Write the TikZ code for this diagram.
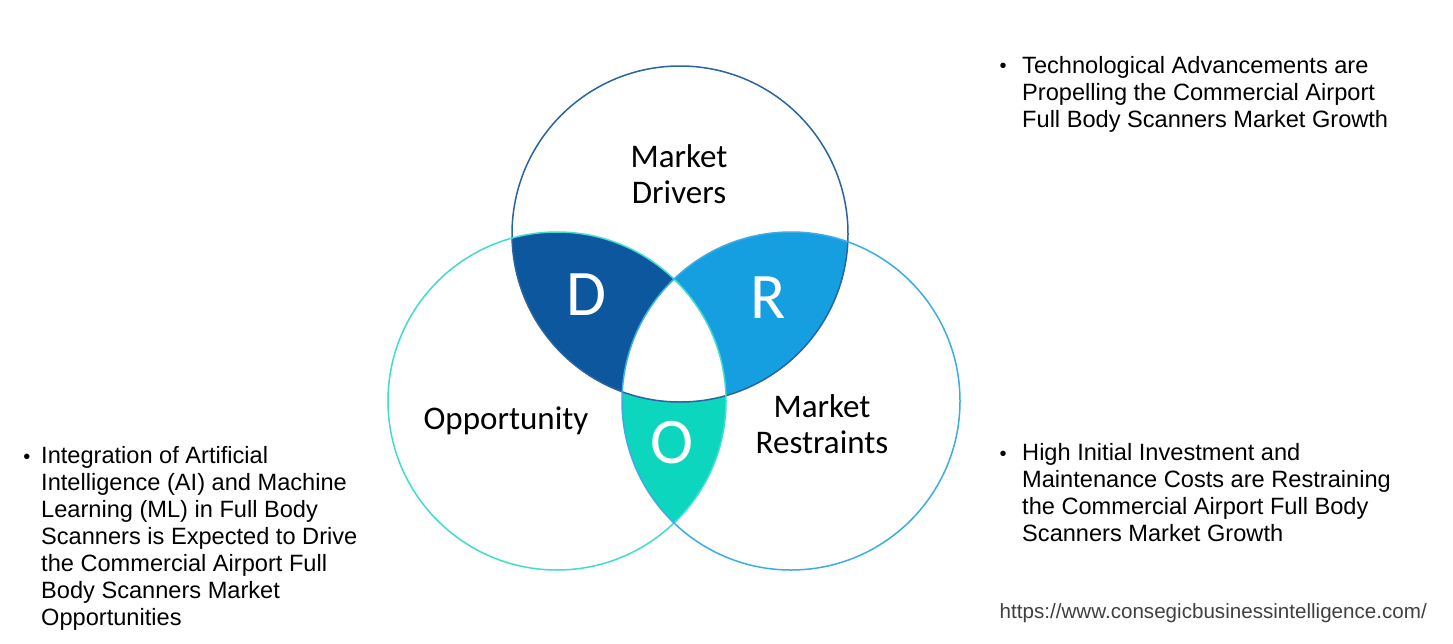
\documentclass[tikz,border=0pt]{standalone}
\usepackage{fontspec}
\setmainfont{Liberation Sans}
\newfontfamily\carl{Carlito}
\definecolor{dcol}{HTML}{0D579F}
\definecolor{rcol}{HTML}{169FE0}
\definecolor{ocol}{HTML}{0DD6BF}
\definecolor{topline}{HTML}{2A64A0}
\definecolor{leftline}{HTML}{40DCCC}
\definecolor{rightline}{HTML}{3BADE3}
\definecolor{urlgray}{HTML}{404040}
\tikzset{
  ring/.style={line width=1.5pt},
  lbl/.style={font=\carl\fontsize{33}{36}\selectfont, align=center, text=black, inner sep=0pt},
  letter/.style={font=\carl\fontsize{65}{65}\selectfont, text=white, inner sep=0pt},
  bul/.style={font=\fontsize{23.6}{27}\selectfont, align=left, anchor=north west, inner sep=0pt, text=black},
  dot/.style={font=\fontsize{20}{20}\selectfont, anchor=center, inner sep=0pt, text=black}
}
\begin{document}
\begin{tikzpicture}[x=1pt,y=-1pt]
\useasboundingbox (0,0) rectangle (1453,643);
\fill[white] (0,0) rectangle (1453,643);
\def\topc{(680,234) circle[radius=168]}
\def\leftc{(557,401) circle[radius=169]}
\def\rightc{(791,401) circle[radius=169]}
% D region
\begin{scope}\clip \topc; \fill[dcol] \leftc; \end{scope}
% R region
\begin{scope}\clip \topc; \fill[rcol] \rightc; \end{scope}
% O region
\begin{scope}\clip \leftc; \fill[ocol] \rightc; \end{scope}
% centre
\begin{scope}\clip \topc; \clip \leftc; \fill[white] \rightc; \end{scope}
\draw[ring, topline] \topc;
\draw[ring, leftline] \leftc;
\draw[ring, rightline] \rightc;
\node[lbl] (drv) at (679,174) {Market\\Drivers};
\node[lbl] (opp) at (506,421) {Opportunity};
\node[lbl] (res) at (822,424) {Market\\Restraints};
\node[letter] (D) at (586,295) {D};
\node[letter] (R) at (768,298) {R};
\node[letter] (O) at (672,443) {O};
\node[dot] (b1) at (1003,68) {•};
\node[bul] (t1) at (1022,56) {Technological Advancements are\\Propelling the Commercial Airport\\Full Body Scanners Market Growth};
\node[dot] (b2) at (1003,456) {•};
\node[bul] (t2) at (1022,443) {High Initial Investment and\\Maintenance Costs are Restraining\\the Commercial Airport Full Body\\Scanners Market Growth};
\node[dot] (b3) at (27,459) {•};
\node[bul] (t3) at (41,446) {Integration of Artificial\\Intelligence (AI) and Machine\\Learning (ML) in Full Body\\Scanners is Expected to Drive\\the Commercial Airport Full\\Body Scanners Market\\Opportunities};
\node[font=\fontsize{20.6}{22}\selectfont, text=urlgray, anchor=east, inner sep=0pt] (url) at (1427,613) {https://www.consegicbusinessintelligence.com/};
\end{tikzpicture}
\end{document}
